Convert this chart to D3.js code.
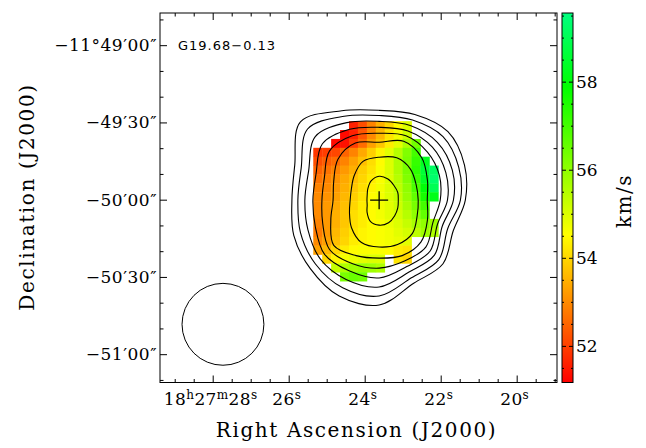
<!DOCTYPE html>
<html>
<head>
<meta charset="utf-8">
<script src="https://cdn.jsdelivr.net/npm/d3@7"></script>
<style>
  body { margin: 0; background: #fff; }
  svg text { font-family: "DejaVu Serif", serif; fill: #000; }
</style>
</head>
<body>
<div id="chart"></div>
<script>
// ---- data
var sourceName = "G19.68\u22120.13";

// RA in seconds of 18h27m, Dec as arcsec offset from -11d50m00s
var raTicks = [28, 26, 24, 22, 20];
var raTickLabels = [["18", "h", "27", "m", "28", "s"], ["26", "s"], ["24", "s"], ["22", "s"], ["20", "s"]];
var decTicks = [60, 30, 0, -30, -60];
var decTickLabels = ["\u221211\u00b049\u203200\u2033", "\u221249\u203230\u2033", "\u221250\u203200\u2033", "\u221250\u203230\u2033", "\u221251\u203200\u2033"];
var velTicks = [52, 54, 56, 58];
var velRange = [51.18, 59.57];

// velocity field (km/s), 3.45" pixels; row 0 = north, col 0 = east
var pixSize = 3.45;
var gridRa0 = 25.236, gridDec0 = 28.77;
var velRows = [
  [null,null,null,null,51.6,52.2,52.9,53.5,54.0,54.5,55.0,null,null,null],
  [null,null,null,51.3,51.6,52.3,53.0,53.6,54.2,54.7,55.2,null,null,null],
  [null,null,51.3,51.4,52.0,52.6,53.3,53.8,54.3,54.9,55.6,56.4,null,null],
  [51.9,52.0,52.1,52.5,52.9,53.4,53.9,54.4,54.9,55.5,56.2,57.0,null,null],
  [52.2,52.4,52.6,52.9,53.3,53.7,54.1,54.5,55.0,55.6,56.3,57.2,58.3,null],
  [52.5,52.7,52.9,53.2,53.5,53.9,54.2,54.6,55.0,55.6,56.3,57.3,58.6,59.2],
  [52.7,52.9,53.1,53.4,53.7,54.0,54.3,54.6,55.0,55.5,56.2,57.1,58.4,59.3],
  [52.9,53.0,53.2,53.5,53.8,54.1,54.4,54.7,55.0,55.4,56.0,56.9,58.0,59.0],
  [53.0,53.1,53.3,53.6,53.9,54.2,54.5,54.7,55.0,55.3,55.9,56.6,57.6,58.2],
  [53.0,53.2,53.4,53.7,54.0,54.3,54.5,54.7,54.9,55.2,55.7,56.3,57.0,null],
  [53.0,53.2,53.5,53.8,54.1,54.3,54.5,54.7,54.9,55.1,55.5,56.0,56.6,null],
  [52.9,53.2,53.5,53.8,54.1,54.3,54.5,54.6,54.8,55.0,55.3,55.7,56.0,55.8],
  [52.8,53.2,53.6,53.9,54.2,54.4,54.5,54.6,54.7,54.9,55.1,55.4,55.8,55.6],
  [53.0,53.3,53.7,54.0,54.3,54.4,54.5,54.6,54.7,54.8,54.9,null,null,null],
  [53.3,53.6,54.0,54.3,54.5,54.6,54.6,54.6,54.5,54.3,54.2,null,null,null],
  [null,54.0,54.4,54.7,54.8,54.9,55.0,55.0,null,54.2,54.0,null,null,null],
  [null,null,55.3,55.6,55.8,55.9,55.8,55.6,null,null,null,null,null,null],
  [null,null,null,56.3,56.5,56.4,null,null,null,null,null,null,null,null]
];

// intensity peak and integrated-intensity contours (radius in arcsec from peak,
// at angles measured clockwise from north on the image)
var peakRa = 23.62, peakDec = -0.2;
var contourAngles = [0, 22.5, 45, 67.5, 90, 112.5, 135, 157.5, 180, 202.5, 225, 247.5, 270, 292.5, 315, 337.5];
var contour1 = [34.9,36.0,37.6,35.7,33.3,31.0,34.9,34.9,40.7,40.3,37.6,35.7,33.7,35.3,43.0,37.6];
var contour2 = [32.9,33.7,34.9,33.3,31.4,28.7,32.6,32.6,37.2,36.8,34.9,32.9,31.4,32.6,39.1,35.3];
var contour3 = [30.6,31.4,31.8,30.6,28.7,26.4,30.2,30.2,33.7,33.3,32.2,29.8,28.7,29.5,34.9,32.6];
var contour4 = [28.3,29.1,29.1,27.9,26.4,24.4,27.9,27.9,30.2,29.8,29.8,26.7,25.6,26.4,31.0,29.8];
var contour5 = [26.0,27.1,26.4,25.2,23.6,22.5,25.6,25.6,26.4,26.7,27.1,23.6,22.1,22.9,27.1,27.1];
var contour6 = [22.5,24.8,23.3,20.2,18.6,20.2,22.9,23.3,22.5,23.3,24.8,20.2,17.8,19.0,22.5,24.0];
var contour7 = [16.7,17.8,17.1,15.5,15.1,15.9,18.2,18.6,18.2,17.8,15.1,12.4,11.2,11.6,13.6,16.3];
var contour8 = [9.3,8.9,8.1,7.8,7.4,7.8,8.5,9.5,9.7,8.9,6.6,5.0,4.7,5.0,6.2,8.1];
var contours = [contour1, contour2, contour3, contour4, contour5, contour6, contour7, contour8];

// beam (FWHM, arcsec) and its position
var beamSize = 31.8;
var beamRa = 27.73, beamDec = -48.4;

// ---- layout
var W = 646, H = 448;
var plot = {left: 160, right: 557, top: 13, bottom: 382.5};
var cbar = {left: 562, right: 573};
var cosDec = Math.cos((11 + 50 / 60) * Math.PI / 180);

var svg = d3.select("#chart").append("svg")
    .attr("width", W).attr("height", H);

var x = d3.scaleLinear().domain([29.387, 18.939]).range([plot.left, plot.right]);
var y = d3.scaleLinear().domain([72.5, -71.0]).range([plot.top, plot.bottom]);
var hue = d3.scaleLinear().domain(velRange).range([0, 150]);
var velColor = function(v) { return d3.hsl(hue(v), 1, 0.5).formatHex(); };
var cb = d3.scaleLinear().domain(velRange).range([plot.bottom, plot.top]);

// arcsec on sky -> RA seconds
function raOff(arcsec) { return arcsec / (15 * cosDec); }

// ---- velocity pixels
var cells = [];
velRows.forEach(function(row, i) {
  row.forEach(function(v, j) {
    if (v !== null) cells.push({ra: gridRa0 - raOff(j * pixSize), dec: gridDec0 - i * pixSize, v: v});
  });
});
var pw = Math.abs(x(0) - x(raOff(pixSize))), ph = Math.abs(y(0) - y(pixSize));
svg.append("g").selectAll("rect").data(cells).join("rect")
    .attr("x", function(d) { return x(d.ra) - pw / 2; })
    .attr("y", function(d) { return y(d.dec) - ph / 2; })
    .attr("width", pw + 0.4).attr("height", ph + 0.4)
    .attr("fill", function(d) { return velColor(d.v); });

// ---- contours
var contourLine = d3.line()
    .x(function(d) { return x(peakRa - raOff(d.r * Math.sin(d.a * Math.PI / 180))); })
    .y(function(d) { return y(peakDec + d.r * Math.cos(d.a * Math.PI / 180)); })
    .curve(d3.curveCatmullRomClosed.alpha(0.5));
svg.append("g").selectAll("path").data(contours).join("path")
    .attr("d", function(c) { return contourLine(c.map(function(r, k) { return {a: contourAngles[k], r: r}; })); })
    .attr("fill", "none").attr("stroke", "#000").attr("stroke-width", 1.1);

// peak cross
var cx = x(peakRa), cy = y(peakDec);
svg.append("path")
    .attr("d", "M" + (cx - 9) + "," + cy + "h18M" + cx + "," + (cy - 9) + "v18")
    .attr("stroke", "#000").attr("stroke-width", 1.3);

// beam
svg.append("circle")
    .attr("cx", x(beamRa)).attr("cy", y(beamDec))
    .attr("r", y(0) - y(beamSize / 2))
    .attr("fill", "none").attr("stroke", "#000").attr("stroke-width", 1);

// ---- axes (ticks inward)
var raMinor = d3.range(19, 29.5, 0.5).filter(function(t) { return t % 2 !== 0; });
var decMinor = d3.range(-70, 71, 10).filter(function(t) { return t % 30 !== 0; });
function addAxis(axisFn, scale, major, minor, transform) {
  var g = svg.append("g").attr("transform", transform);
  g.call(axisFn(scale).tickValues(major).tickSize(-7).tickSizeOuter(0).tickFormat(""));
  g.select(".domain").remove();
  var g2 = svg.append("g").attr("transform", transform);
  g2.call(axisFn(scale).tickValues(minor).tickSize(-3.5).tickSizeOuter(0).tickFormat(""));
  g2.select(".domain").remove();
  svg.selectAll(".tick line").attr("stroke", "#000");
}
addAxis(d3.axisBottom, x, raTicks, raMinor, "translate(0," + plot.bottom + ")");
addAxis(d3.axisTop, x, raTicks, raMinor, "translate(0," + plot.top + ")");
addAxis(d3.axisLeft, y, decTicks, decMinor, "translate(" + plot.left + ",0)");
addAxis(d3.axisRight, y, decTicks, decMinor, "translate(" + plot.right + ",0)");

svg.append("rect")
    .attr("x", plot.left).attr("y", plot.top)
    .attr("width", plot.right - plot.left).attr("height", plot.bottom - plot.top)
    .attr("fill", "none").attr("stroke", "#000").attr("stroke-width", 1);

// RA labels with superscripts
var raLab = svg.append("g").selectAll("text").data(raTicks).join("text")
    .attr("x", function(d) { return x(d) - 2; })
    .attr("y", 405)
    .attr("text-anchor", "middle")
    .style("font-size", "17px").style("letter-spacing", "0.4px");
raLab.each(function(d, i) {
  var t = d3.select(this);
  raTickLabels[i].forEach(function(part, k) {
    var sup = k % 2 === 1;
    t.append("tspan").text(part)
      .attr("dy", sup ? -6 : (k > 0 ? 6 : 0))
      .style("font-size", sup ? "12px" : "17px");
  });
});

svg.append("g").selectAll("text").data(decTicks).join("text")
    .attr("x", plot.left - 3).attr("y", function(d) { return y(d); })
    .attr("dy", "0.35em")
    .attr("text-anchor", "end")
    .style("font-size", "17px").style("letter-spacing", "0.5px")
    .text(function(d, i) { return decTickLabels[i]; });

svg.append("text")
    .attr("x", (plot.left + plot.right) / 2 - 2).attr("y", 437)
    .attr("text-anchor", "middle")
    .style("font-size", "20px").style("letter-spacing", "1.6px")
    .text("Right Ascension (J2000)");

svg.append("text")
    .attr("transform", "translate(34,197) rotate(-90)")
    .attr("text-anchor", "middle")
    .style("font-size", "20px").style("letter-spacing", "1.6px")
    .text("Declination (J2000)");

svg.append("text")
    .attr("x", 178).attr("y", 50)
    .style("font-family", "'DejaVu Sans', sans-serif")
    .style("font-size", "13px").style("letter-spacing", "1px")
    .text(sourceName);

// ---- colour bar
var grad = svg.append("defs").append("linearGradient")
    .attr("id", "velgrad").attr("x1", 0).attr("y1", 1).attr("x2", 0).attr("y2", 0);
grad.selectAll("stop").data(d3.range(0, 1.0001, 0.05)).join("stop")
    .attr("offset", function(d) { return d; })
    .attr("stop-color", function(d) { return velColor(velRange[0] + d * (velRange[1] - velRange[0])); });
svg.append("rect")
    .attr("x", cbar.left).attr("y", plot.top)
    .attr("width", cbar.right - cbar.left).attr("height", plot.bottom - plot.top)
    .attr("fill", "url(#velgrad)").attr("stroke", "#000").attr("stroke-width", 1);

var velMinor = d3.range(51.5, 59.6, 0.5).filter(function(t) { return velTicks.indexOf(t) < 0; });
[["L", cbar.left, 1], ["R", cbar.right, -1]].forEach(function(side) {
  var g = svg.append("g");
  g.selectAll("line.maj").data(velTicks).join("line")
      .attr("x1", side[1]).attr("x2", side[1] + side[2] * 4)
      .attr("y1", function(d) { return cb(d); }).attr("y2", function(d) { return cb(d); })
      .attr("stroke", "#000");
  g.selectAll("line.min").data(velMinor).join("line")
      .attr("x1", side[1]).attr("x2", side[1] + side[2] * 2)
      .attr("y1", function(d) { return cb(d); }).attr("y2", function(d) { return cb(d); })
      .attr("stroke", "#000");
});

svg.append("g").selectAll("text").data(velTicks).join("text")
    .attr("x", cbar.right + 3).attr("y", function(d) { return cb(d); })
    .attr("dy", "0.35em")
    .style("font-size", "17px")
    .text(function(d) { return d; });

svg.append("text")
    .attr("transform", "translate(631,201) rotate(-90)")
    .attr("text-anchor", "middle")
    .style("font-size", "20px").style("letter-spacing", "1.5px")
    .text("km/s");
</script>
</body>
</html>
